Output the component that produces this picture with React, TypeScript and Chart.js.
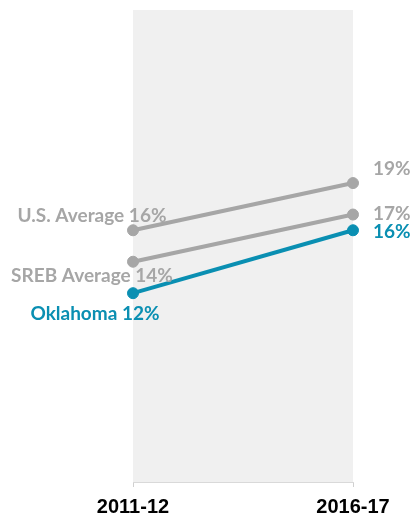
import React, { useEffect, useRef } from "react";
import { Chart, registerables } from "chart.js";

Chart.register(...registerables);

const years = ["2011-12", "2016-17"];
const seriesNames = ["U.S. Average", "SREB Average", "Oklahoma"];
const usValues = [16, 19];
const srebValues = [14, 17];
const oklahomaValues = [12, 16];

const GREY = "#a6a6a6";
const TEAL = "#0a8fb2";

// label placement per series: [left dx, left baseline dy, right dx, right baseline dy]
const labelPlacement = [
  { ldx: -41, ldy: -8, rdx: 20, rdy: -8 },
  { ldx: -41, ldy: 20, rdx: 20, rdy: 5.5 },
  { ldx: -38, ldy: 26.5, rdx: 20, rdy: 8 },
];

const bandPlugin = {
  id: "band",
  beforeDraw(chart: any) {
    const { ctx, chartArea } = chart;
    ctx.save();
    ctx.fillStyle = "#f0f0f0";
    ctx.fillRect(chartArea.left, chartArea.top, chartArea.right - chartArea.left, chartArea.bottom - chartArea.top);
    ctx.restore();
  },
};

const labelPlugin = {
  id: "slopeLabels",
  afterDatasetsDraw(chart: any) {
    const { ctx } = chart;
    ctx.save();
    ctx.font = "bold 19px Lato";
    ctx.textBaseline = "alphabetic";
    chart.data.datasets.forEach((ds: any, i: number) => {
      const meta = chart.getDatasetMeta(i);
      const pl = labelPlacement[i];
      ctx.fillStyle = ds.borderColor;
      const p0 = meta.data[0];
      const p1 = meta.data[1];
      ctx.textAlign = "center";
      ctx.fillText(`${seriesNames[i]} ${ds.data[0]}%`, p0.x + pl.ldx, p0.y + pl.ldy);
      ctx.textAlign = "left";
      ctx.fillText(`${ds.data[1]}%`, p1.x + pl.rdx, p1.y + pl.rdy);
    });
    ctx.restore();
  },
};

export default function App() {
  const ref = useRef<HTMLCanvasElement>(null);
  useEffect(() => {
    if (!ref.current) return;
    const mk = (data: number[], color: string) => ({
      data,
      borderColor: color,
      backgroundColor: color,
      pointBackgroundColor: color,
      pointBorderColor: color,
      borderWidth: 4,
      pointRadius: 5.5,
      pointBorderWidth: 1,
      clip: false as any,
      tension: 0,
    });
    const chart = new Chart(ref.current, {
      type: "line",
      data: {
        labels: years,
        datasets: [mk(usValues, GREY), mk(srebValues, GREY), mk(oklahomaValues, TEAL)],
      },
      options: {
        animation: false,
        responsive: false,
        maintainAspectRatio: false,
        layout: { padding: { left: 133, right: 59, top: 10, bottom: 0 } },
        plugins: { legend: { display: false }, tooltip: { enabled: false } },
        scales: {
          x: {
            offset: false,
            grid: { display: true, drawOnChartArea: false, tickLength: 5, color: "#d0d0d0" },
            border: { display: true, color: "#d9d9d9", width: 1 },
            ticks: {
              color: "#000000",
              font: { family: "Liberation Sans", weight: "bold", size: 20, lineHeight: 1 },
              padding: 10,
              maxRotation: 0,
              autoSkip: false,
            },
          },
          y: { display: false, min: 0, max: 30 },
        },
      },
      plugins: [bandPlugin, labelPlugin],
    });
    return () => chart.destroy();
  }, []);
  return (
    <div style={{ position: "fixed", left: 0, top: 0, width: 412, height: 516, overflow: "hidden" }}>
      <canvas ref={ref} width={412} height={527} style={{ width: 412, height: 527, display: "block" }} />
    </div>
  );
}
